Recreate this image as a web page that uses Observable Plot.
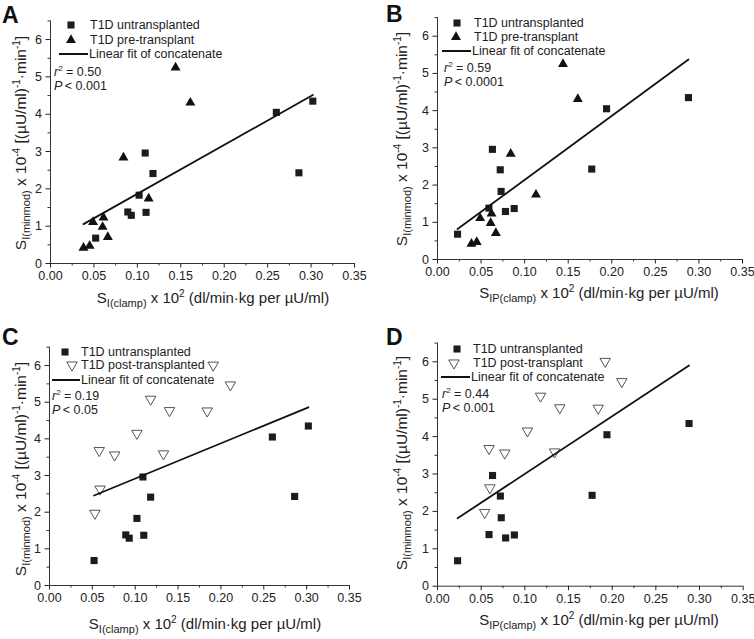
<!DOCTYPE html>
<html>
<head>
<meta charset="utf-8">
<script src="https://cdn.jsdelivr.net/npm/d3@7"></script>
<script src="https://cdn.jsdelivr.net/npm/@observablehq/plot@0.6"></script>
<style>
  body { margin: 0; background: #fff; }
  #root { position: relative; width: 754px; height: 639px; overflow: hidden; background: #fff;
          font-family: Arial, "Liberation Sans", Helvetica, sans-serif; color: #222; }
  #root svg.plot { position: absolute; }
  .t { position: absolute; white-space: nowrap; line-height: 1; }
  .t sub, .t sup { line-height: 0; }
</style>
</head>
<body>
<div id="root"></div>
<script>
// ---- data ----
const xTicks = [0, 0.05, 0.10, 0.15, 0.20, 0.25, 0.30, 0.35];
const xMinorTicks = [0.025, 0.075, 0.125, 0.175, 0.225, 0.275, 0.325];
const yTicks = [0, 1, 2, 3, 4, 5, 6];
const yMinorTicks = [0.5, 1.5, 2.5, 3.5, 4.5, 5.5, 6.5];

// T1D untransplanted
const clampUntrans   = [0.052, 0.089, 0.093, 0.102, 0.110, 0.109, 0.118, 0.260, 0.286, 0.302];
const ipClampUntrans = [0.023, 0.059, 0.078, 0.073, 0.088, 0.063, 0.072, 0.194, 0.177, 0.288];
const minmodUntrans  = [0.68, 1.38, 1.29, 1.83, 1.37, 2.96, 2.41, 4.05, 2.43, 4.35];

// T1D pre-transplant
const clampPre   = [0.038, 0.045, 0.049, 0.061, 0.060, 0.066, 0.084, 0.113, 0.144, 0.161];
const ipClampPre = [0.039, 0.045, 0.049, 0.062, 0.061, 0.067, 0.084, 0.113, 0.144, 0.161];
const minmodPre  = [0.42, 0.47, 1.11, 1.23, 0.98, 0.71, 2.84, 1.74, 5.25, 4.31];

// T1D post-transplant
const clampPost   = [0.053, 0.059, 0.058, 0.076, 0.102, 0.118, 0.133, 0.140, 0.184, 0.191, 0.211];
const ipClampPost = [0.054, 0.060, 0.059, 0.077, 0.103, 0.118, 0.134, 0.140, 0.184, 0.192, 0.211];
const minmodPost  = [1.97, 2.63, 3.68, 3.56, 4.15, 5.08, 3.59, 4.77, 4.76, 6.01, 5.47];

const panelLetters = ["A", "B", "C", "D"];
const legendUntrans = "T1D untransplanted";
const legendPre = "T1D pre-transplant";
const legendPostC = "T1D post-transplanted";
const legendPostD = "T1D post-transplant";
const legendFit = "Linear fit of concatenate";
const r2Values = ["0.50", "0.59", "0.19", "0.44"];
const pValues = ["0.001", "0.0001", "0.05", "0.001"];

// ---- drawing ----
const root = document.getElementById("root");
const triDown = {
  draw(ctx, size) {
    const a = Math.sqrt(size * 4 / Math.sqrt(3));
    const h = a * Math.sqrt(3) / 2;
    ctx.moveTo(-a / 2, -h / 3);
    ctx.lineTo(a / 2, -h / 3);
    ctx.lineTo(0, 2 * h / 3);
    ctx.closePath();
  }
};
const SQ_R = 4, TRI_R = 3.7, TD_R = 3.9;
const styles = {
  square: {symbol: "square", r: SQ_R, fill: "#1c1c1c", stroke: "none"},
  tri: {symbol: "triangle", r: TRI_R, fill: "#111", stroke: "none"},
  triDown: {symbol: triDown, r: TD_R, fill: "white", stroke: "#555", strokeWidth: 1}
};

function toRows(xs, ys) { return xs.map((x, i) => ({x, y: ys[i]})); }

function addText(html, x, y, css = {}) {
  const d = document.createElement("div");
  d.className = "t";
  d.innerHTML = html;
  d.style.left = x + "px";
  d.style.top = y + "px";
  d.style.transform = "translateY(-50%)";
  Object.assign(d.style, css);
  root.appendChild(d);
  return d;
}

function addSymbol(kind, x, y) {
  const st = styles[kind];
  const type = kind === "square" ? d3.symbolSquare : kind === "tri" ? d3.symbolTriangle : triDown;
  const ns = "http://www.w3.org/2000/svg";
  const svg = document.createElementNS(ns, "svg");
  svg.setAttribute("width", 20); svg.setAttribute("height", 20);
  svg.style.position = "absolute";
  svg.style.left = (x - 10) + "px"; svg.style.top = (y - 10) + "px";
  const p = document.createElementNS(ns, "path");
  p.setAttribute("d", d3.symbol(type, Math.PI * st.r * st.r)());
  p.setAttribute("transform", "translate(10,10)");
  p.setAttribute("fill", st.fill);
  p.setAttribute("stroke", st.stroke);
  if (st.strokeWidth) p.setAttribute("stroke-width", st.strokeWidth);
  svg.appendChild(p);
  root.appendChild(svg);
}

function addLine(x1, x2, y) {
  const d = document.createElement("div");
  d.style.position = "absolute";
  d.style.left = x1 + "px"; d.style.width = (x2 - x1) + "px";
  d.style.top = (y - 1) + "px"; d.style.height = "0";
  d.style.borderTop = "2px solid #111";
  root.appendChild(d);
}

function panel(cfg) {
  const h = 300, w = 377;
  const series = cfg.series;
  const all = series.flatMap(s => toRows(s.x, s.y));
  const plot = Plot.plot({
    width: w, height: h,
    marginLeft: cfg.x0 - cfg.left,
    marginRight: cfg.left + w - cfg.x1,
    marginTop: cfg.yTop - cfg.top,
    marginBottom: cfg.top + h - cfg.yBot,
    style: {fontFamily: 'Arial, "Liberation Sans", sans-serif', fontSize: "12.5px", color: "#222", background: "transparent", overflow: "visible"},
    x: {domain: [0, 0.35]},
    y: {domain: [0, 6.5]},
    marks: [
      Plot.ruleX([0], {stroke: "#333", strokeWidth: 1}),
      Plot.ruleY([0], {stroke: "#333", strokeWidth: 1}),
      Plot.axisX(xMinorTicks, {tickSize: 2.5, tickFormat: () => "", color: "#333", label: null}),
      Plot.axisX(xTicks, {tickSize: 4.5, tickPadding: 3, tickFormat: d3.format(".2f"), color: "#222", fontSize: 12.5, label: null}),
      Plot.axisY(yMinorTicks, {tickSize: 2.5, tickFormat: () => "", color: "#333", label: null}),
      Plot.axisY(yTicks, {tickSize: 4.5, tickPadding: 4, tickFormat: d3.format("d"), color: "#222", fontSize: 12.5, label: null}),
      ...series.map(s => Plot.dot(toRows(s.x, s.y), {x: "x", y: "y", ...styles[s.kind]})),
      Plot.linearRegressionY(all, {x: "x", y: "y", ci: 0, stroke: "#111", strokeWidth: 1.8})
    ]
  });
  plot.classList.add("plot");
  plot.style.left = cfg.left + "px";
  plot.style.top = cfg.top + "px";
  root.appendChild(plot);

  // panel letter
  addText(cfg.letter, cfg.letterPos[0], cfg.letterPos[1], {fontWeight: "bold", fontSize: "23px", color: "#111"});
  // legend
  const L = cfg.legend;
  series.forEach((s, i) => {
    addSymbol(s.kind, L.sym[i][0], L.sym[i][1]);
    addText(s.label, L.textX, L.sym[i][1], {fontSize: "12.5px"});
  });
  addLine(L.line[0], L.line[1], L.line[2]);
  addText(legendFit, L.line[1] + 1, L.line[2], {fontSize: "12.5px"});
  addText(`<i>r</i><sup style="font-size:8px">2</sup> = ${cfg.r2}`, L.statX, L.r2Y, {fontSize: "12.5px"});
  addText(`<i>P</i>&thinsp;&lt; ${cfg.p}`, L.statX, L.pY, {fontSize: "12.5px"});
  // axis titles
  addText(`S<sub style="font-size:11px">${cfg.xSub}</sub> x 10<sup style="font-size:10px">2</sup> (dl/min·kg per µU/ml)`,
    cfg.xLabel[0], cfg.xLabel[1], {fontSize: "15px", transform: "translate(-50%,-50%)"});
  addText(`S<sub style="font-size:11px">I(minmod)</sub> x 10<sup style="font-size:10px">-4</sup> [(µU/ml)<sup style="font-size:10px">-1</sup>·min<sup style="font-size:10px">-1</sup>]`,
    cfg.yLabel[0], cfg.yLabel[1], {fontSize: "15.5px", transform: "translate(-50%,-50%) rotate(-90deg)"});
}

panel({
  letter: panelLetters[0], letterPos: [2, 15],
  left: 0, top: 0, x0: 50, x1: 354, yTop: 20.4, yBot: 263,
  series: [
    {kind: "square", x: clampUntrans, y: minmodUntrans, label: legendUntrans},
    {kind: "tri", x: clampPre, y: minmodPre, label: legendPre}
  ],
  legend: {sym: [[71, 25], [71, 40]], textX: 90, line: [59, 88, 54], statX: 54, r2Y: 72, pY: 86},
  r2: r2Values[0], p: pValues[0],
  xSub: "I(clamp)", xLabel: [213, 297], yLabel: [21, 143]
});
panel({
  letter: panelLetters[1], letterPos: [386, 14],
  left: 377, top: 0, x0: 437, x1: 742, yTop: 17.1, yBot: 259,
  series: [
    {kind: "square", x: ipClampUntrans, y: minmodUntrans, label: legendUntrans},
    {kind: "tri", x: ipClampPre, y: minmodPre, label: legendPre}
  ],
  legend: {sym: [[457, 23], [456, 37]], textX: 474, line: [442, 471, 51], statX: 444, r2Y: 68, pY: 82},
  r2: r2Values[1], p: pValues[1],
  xSub: "IP(clamp)", xLabel: [599, 292], yLabel: [402, 139]
});
panel({
  letter: panelLetters[2], letterPos: [2, 337],
  left: 0, top: 320, x0: 49, x1: 349, yTop: 346.7, yBot: 585,
  series: [
    {kind: "square", x: clampUntrans, y: minmodUntrans, label: legendUntrans},
    {kind: "triDown", x: clampPost, y: minmodPost, label: legendPostC}
  ],
  legend: {sym: [[65, 352], [72, 365]], textX: 81, line: [52, 80, 380], statX: 52, r2Y: 396, pY: 410},
  r2: r2Values[2], p: pValues[2],
  xSub: "I(clamp)", xLabel: [205, 623], yLabel: [21, 469]
});
panel({
  letter: panelLetters[3], letterPos: [386, 337],
  left: 377, top: 320, x0: 437, x1: 742.7, yTop: 342.6, yBot: 585.7,
  series: [
    {kind: "square", x: ipClampUntrans, y: minmodUntrans, label: legendUntrans},
    {kind: "triDown", x: ipClampPost, y: minmodPost, label: legendPostD}
  ],
  legend: {sym: [[457, 349], [454, 363]], textX: 473, line: [441, 470, 377], statX: 442, r2Y: 394, pY: 408},
  r2: r2Values[3], p: pValues[3],
  xSub: "IP(clamp)", xLabel: [599, 619], yLabel: [402, 463]
});
</script>
</body>
</html>
